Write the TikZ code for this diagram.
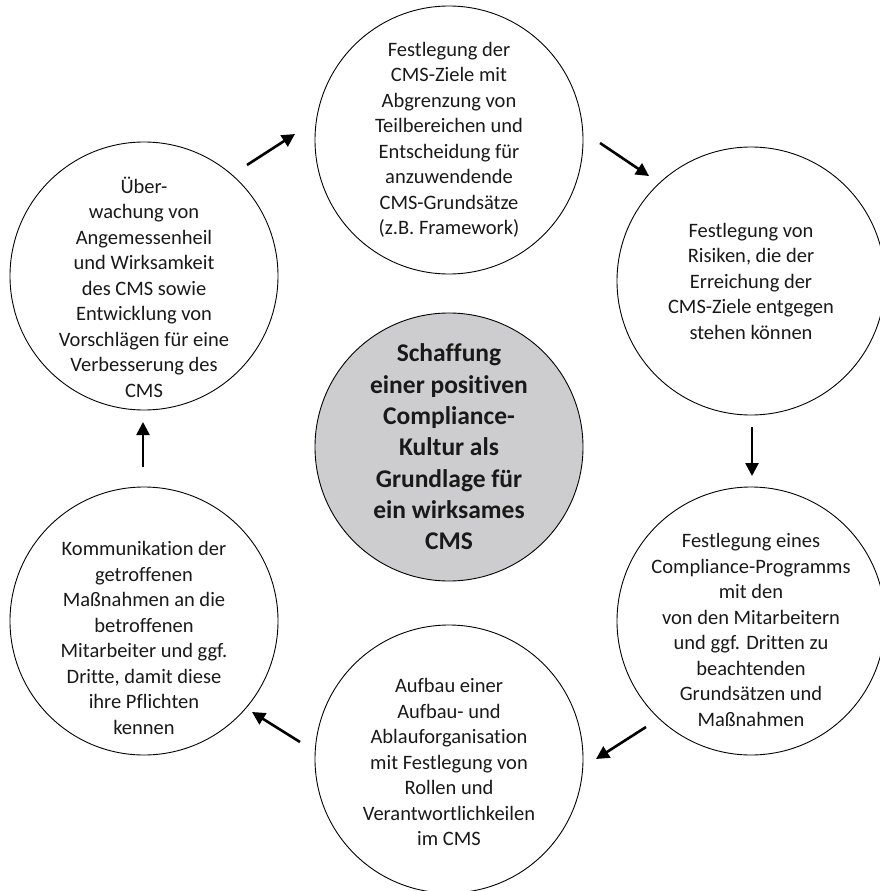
\documentclass[tikz,border=0pt]{standalone}
\usepackage{fontspec}
\setmainfont{Carlito}[Ligatures=NoCommon]
\usetikzlibrary{arrows.meta}
\definecolor{txt}{RGB}{25,25,25}
\definecolor{centerfill}{RGB}{205,205,207}
\tikzset{
  stage/.style={circle, draw=black, line width=0.9pt, minimum size=268pt, inner sep=0pt},
  stagetext/.style={align=center, text=txt, inner sep=0pt, font=\fontsize{20.5}{25.5}\selectfont},
  core/.style={stage, fill=centerfill, align=center, text=txt, font=\fontsize{25.5}{31.3}\selectfont\bfseries},
  flow/.style={line width=2.6pt, -{Triangle[length=13pt,width=13pt]}}
}
\begin{document}
\begin{tikzpicture}[x=1pt,y=-1pt]
\useasboundingbox (0,0) rectangle (880,891);
\node[stage] (T) at (449,140) {};
\node[stage] (TR) at (751,281) {};
\node[stage] (BR) at (751,621) {};
\node[stage] (B) at (449,759) {};
\node[stage] (BL) at (144,621) {};
\node[stage] (TL) at (144,276) {};
\node[stagetext] (Tt) at (T) {Festlegung der\\CMS-Ziele mit\\Abgrenzung von\\Teilbereichen und\\Entscheidung für\\anzuwendende\\CMS-Grundsätze\\(z.B. Framework)};
\node[stagetext] (TRt) at (TR) {Festlegung von\\Risiken, die der\\Erreichung der\\CMS-Ziele entgegen\\stehen können};
\node[stagetext, yshift=-9pt] (BRt) at (BR) {Festlegung eines\\Compliance-Programms\\mit den\\von den Mitarbeitern\\und ggf. Dritten zu\\beachtenden\\Grundsätzen und\\Maßnahmen};
\node[stagetext, yshift=-3pt] (Bt) at (B) {Aufbau einer\\Aufbau- und\\Ablauforganisation\\mit Festlegung von\\Rollen und\\Verantwortlichkeilen\\im CMS};
\node[stagetext, yshift=-17pt] (BLt) at (BL) {Kommunikation der\\getroffenen\\Maßnahmen an die\\betroffenen\\Mitarbeiter und ggf.\\Dritte, damit diese\\ihre Pflichten\\kennen};
\node[stagetext, yshift=-11pt] (TLt) at (TL) {Über-\\wachung von\\Angemessenheil\\und Wirksamkeit\\des CMS sowie\\Entwicklung von\\Vorschlägen für eine\\Verbesserung des\\CMS};
\node[core] (C) at (449,447) {Schaffung\\einer positiven\\Compliance-\\Kultur als\\Grundlage für\\ein wirksames\\CMS};
\coordinate (a1s) at (247,165); \coordinate (a1e) at (295,134);
\coordinate (a2s) at (600,143); \coordinate (a2e) at (649,176);
\coordinate (a3s) at (752,427); \coordinate (a3e) at (752,476);
\coordinate (a4s) at (646,727); \coordinate (a4e) at (596,759);
\coordinate (a5s) at (300,742); \coordinate (a5e) at (252,712);
\coordinate (a6s) at (143,467); \coordinate (a6e) at (143,422);
\draw[flow] (a1s) -- (a1e);
\draw[flow] (a2s) -- (a2e);
\draw[flow] (a3s) -- (a3e);
\draw[flow] (a4s) -- (a4e);
\draw[flow] (a5s) -- (a5e);
\draw[flow] (a6s) -- (a6e);
\end{tikzpicture}
\end{document}
